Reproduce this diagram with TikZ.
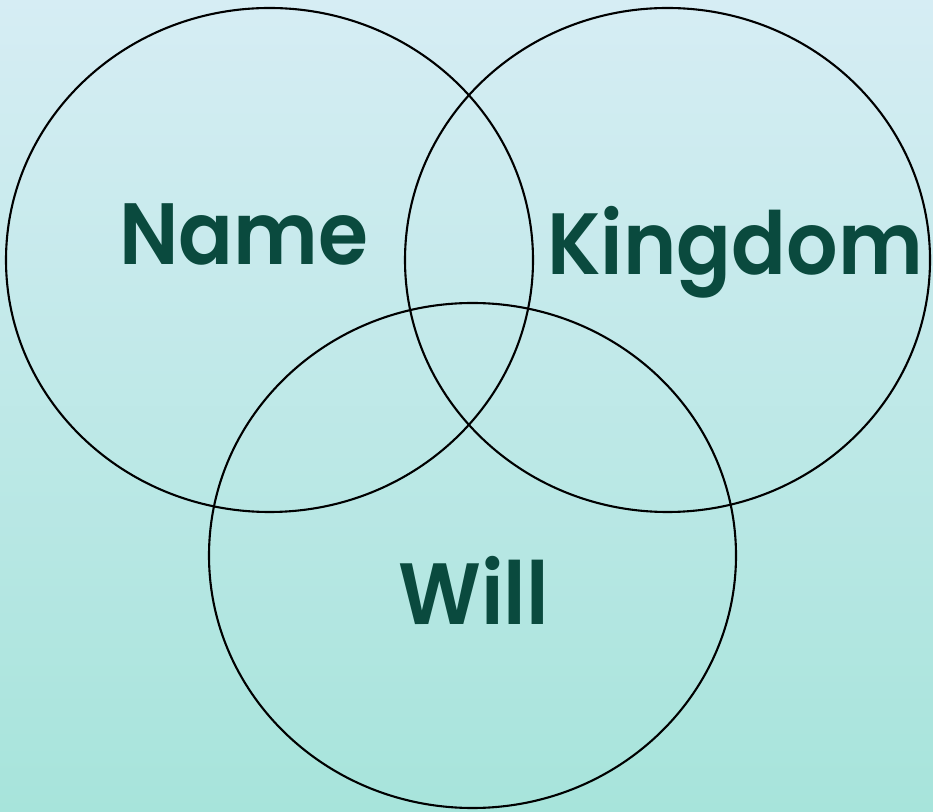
\documentclass[tikz,border=0pt]{standalone}
\usepackage{fontspec}
\newfontfamily\vennfont{Poppins SemiBold}[FakeStretch=0.93]
\usepackage{xcolor}
\usepackage{tikz}
\usetikzlibrary{positioning}
\definecolor{skytop}{RGB}{214, 237, 244}
\definecolor{tealbottom}{RGB}{167, 228, 219}
\definecolor{deepgreen}{RGB}{10, 74, 62}

\begin{document}
\begin{tikzpicture}[x=1pt, y=1pt,
    venn/.style={draw=black, line width=2.1pt},
    label/.style={anchor=base, text=deepgreen, inner sep=0pt,
          font=\vennfont\fontsize{87}{94}\selectfont}]
    % background
    \shade[top color=skytop, bottom color=tealbottom] (0,0) rectangle (933,811);
    \useasboundingbox (0,0) rectangle (933,811);
    % circles
    \draw[venn] (269.5,551) ellipse [x radius=263.5, y radius=252];
    \draw[venn] (667.5,551) ellipse [x radius=262.5, y radius=252];
    \draw[venn] (472.5,255.5) ellipse [x radius=263.5, y radius=252.5];
    % labels
    \node[label] (name) at (244,546) {Name};
    \node[label] (kingdom) at (735,536) {Kingdom};
    \node[label] (will) at (473.5,186) {Will};
\end{tikzpicture}
\end{document}
